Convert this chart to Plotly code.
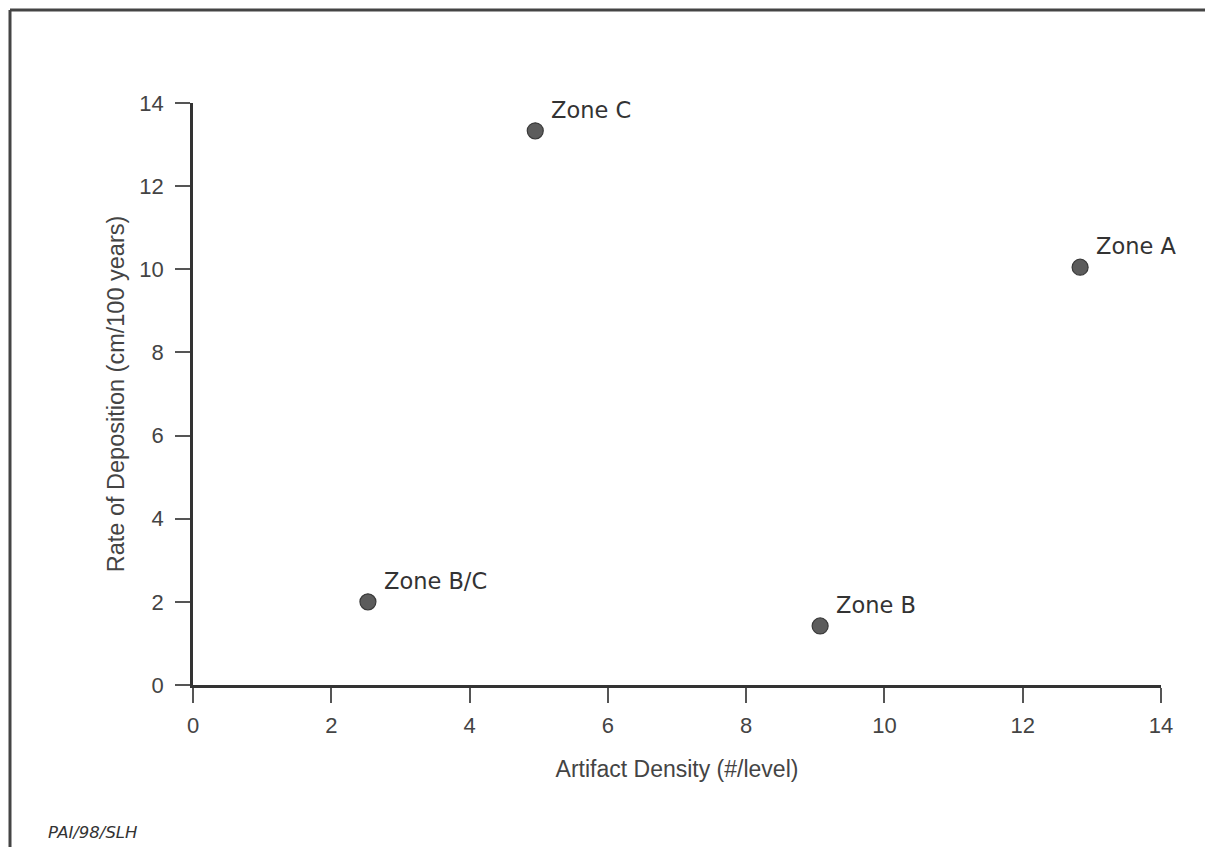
import plotly.graph_objects as go

zones = ["Zone C", "Zone A", "Zone B/C", "Zone B"]
artifact_density = [4.95, 12.83, 2.53, 9.07]
deposition_rate = [13.33, 10.05, 2.0, 1.42]
tick_vals = [0, 2, 4, 6, 8, 10, 12, 14]

SANS = "Liberation Sans, Arial, sans-serif"
WIDE = "DejaVu Sans, sans-serif"

# page body offset of ~8px compensated in margins
OFF = 8
PL, PT, PW, PH = 193, 103, 968, 582  # plot area in screen pixels
W, H = 1213 - OFF, 847 - OFF

def px(x):
    return (x - PL) / PW

def py(y):
    return (PT + PH - y) / PH

fig = go.Figure()
fig.add_trace(go.Scatter(
    x=artifact_density, y=deposition_rate, mode="markers",
    marker=dict(size=16, color="#5c5c5c", line=dict(color="#3a3a3a", width=1.2)),
    cliponaxis=False, showlegend=False, hoverinfo="skip"))

for z, xv, yv in zip(zones, artifact_density, deposition_rate):
    fig.add_annotation(x=xv, y=yv, text=z, showarrow=False, xanchor="left", yanchor="middle",
                       xshift=14, yshift=21, font=dict(family=WIDE, size=22.5, color="#333333"))

axis_common = dict(range=[0, 14], tickvals=tick_vals, showgrid=False, zeroline=False,
                   showline=True, linecolor="#333333", linewidth=2.5, ticks="outside",
                   ticklen=15, tickwidth=1.5, tickcolor="#555555",
                   tickfont=dict(family=SANS, size=22, color="#444444"))

fig.update_xaxes(**axis_common, ticklabelstandoff=4,
                 title=dict(text="Artifact Density (#/level)", standoff=24,
                            font=dict(family=SANS, size=23, color="#444444")))
fig.update_yaxes(**axis_common, ticklabelstandoff=7,
                 title=dict(text="Rate of Deposition (cm/100 years)", standoff=9,
                            font=dict(family=SANS, size=23.5, color="#444444")))

# frame border of the scanned figure
fig.add_shape(type="line", xref="paper", yref="paper", x0=px(10), x1=px(10),
              y0=py(847), y1=py(10), line=dict(color="#444444", width=3))
fig.add_shape(type="line", xref="paper", yref="paper", x0=px(10), x1=px(1213),
              y0=py(10), y1=py(10), line=dict(color="#444444", width=3))
fig.add_shape(type="line", xref="paper", yref="paper", x0=px(1211), x1=px(1211),
              y0=py(847), y1=py(10), line=dict(color="#dddddd", width=1))

fig.add_annotation(xref="paper", yref="paper", x=px(46), y=py(832), text="<i>PAI/98/SLH</i>",
                   showarrow=False, xanchor="left", yanchor="middle",
                   font=dict(family=WIDE, size=16.5, color="#333333"))

fig.update_layout(width=W, height=H,
                  margin=dict(l=PL - OFF, r=W - (PL - OFF) - PW, t=PT - OFF, b=H - (PT - OFF) - PH),
                  plot_bgcolor="white", paper_bgcolor="white")

fig.write_html("out.html")
